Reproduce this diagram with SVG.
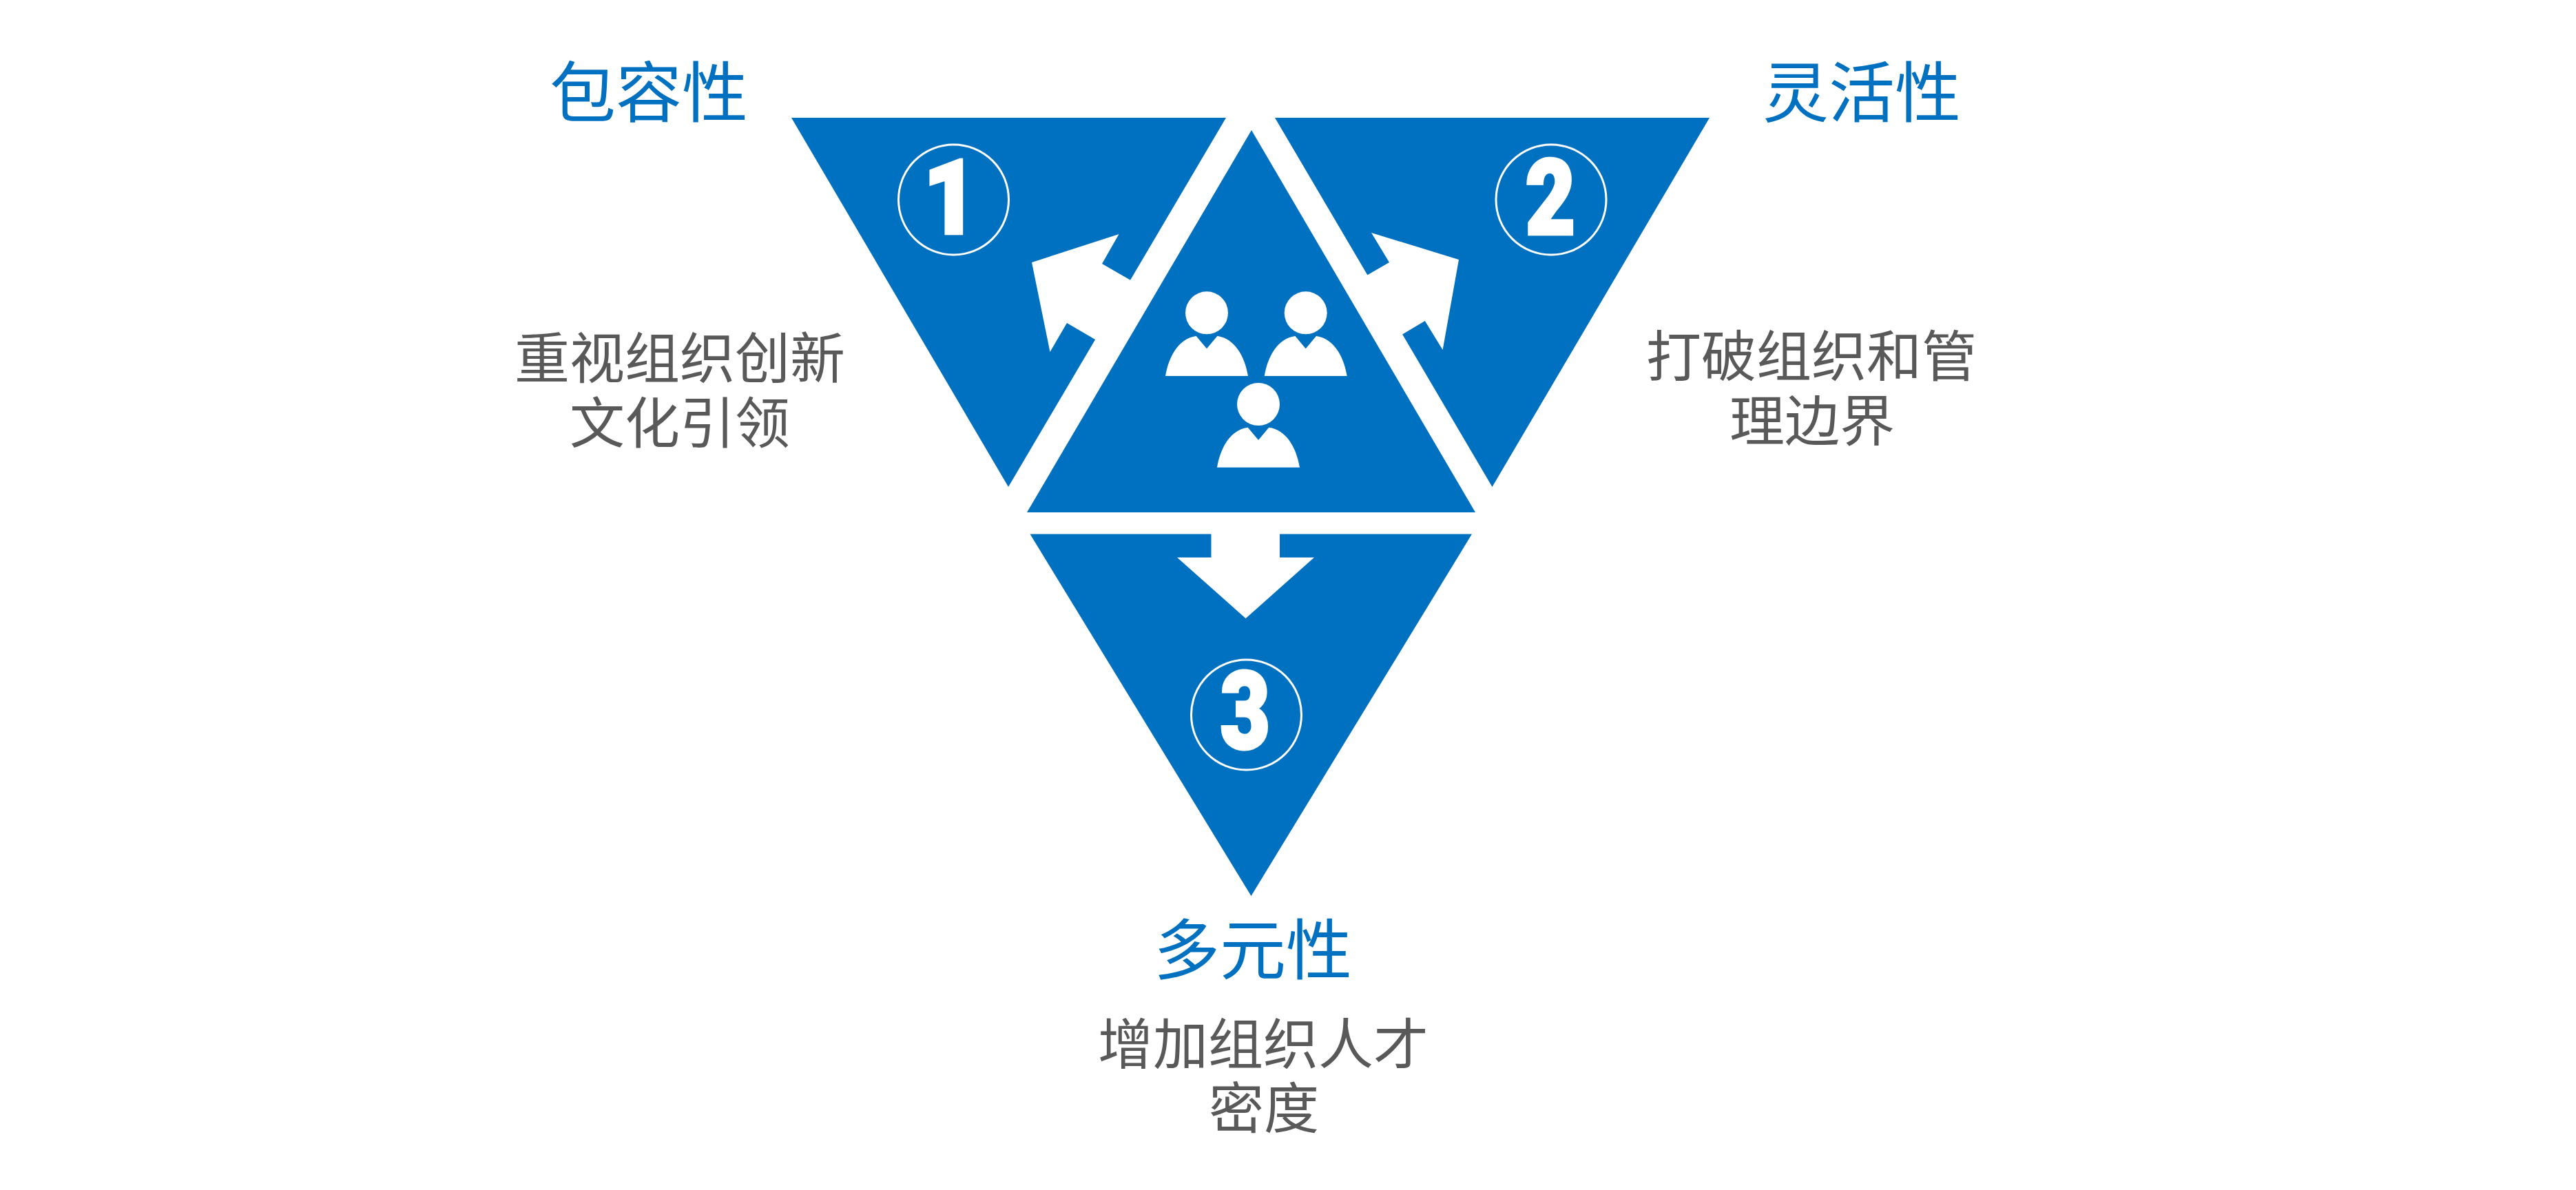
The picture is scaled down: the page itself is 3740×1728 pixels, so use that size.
<svg xmlns="http://www.w3.org/2000/svg" width="3740" height="1728" viewBox="0 0 3740 1728">
<style>
.tri{fill:#0070c0}
.ring{fill:none;stroke:#fff;stroke-width:3}
.num{font-family:Roboto,"Liberation Sans",Arial,sans-serif;font-weight:900;font-size:160px;fill:#fff;stroke:#fff;stroke-width:5;text-anchor:middle}
.head{font-family:"Noto Sans CJK SC",sans-serif;font-size:96px;fill:#0070c0;text-anchor:middle}
.body{font-family:"Noto Sans CJK SC",sans-serif;font-size:80px;fill:#595959;text-anchor:middle}
.arrow{fill:#fff}
.person{fill:#fff}
</style>
<defs>
<g id="person">
<circle cx="0" cy="0" r="31"/>
<path d="M-60,91.7C-55,62 -40,37 -15.3,33.7L0,52L15.3,33.7C40,37 55,62 60,91.7Z"/>
</g>
</defs>
<rect width="3740" height="1728" fill="#fff"/>
<g id="node-1">
<polygon class="tri" points="1149,171 1780,171 1464,707"/>
<ellipse class="ring" cx="1384.5" cy="290" rx="80" ry="80"/>
<text class="num" transform="translate(1380,339) scale(0.85,0.94)" x="0" y="0">1</text>
<text class="head" x="942" y="169">包容性</text>
<text class="body" x="987" y="549">重视组织创新</text>
<text class="body" x="987" y="643">文化引领</text>
</g>
<g id="node-2">
<polygon class="tri" points="1851,171 2482,171 2166.5,707"/>
<ellipse class="ring" cx="2252" cy="290" rx="80" ry="80"/>
<text class="num" transform="translate(2251,340) scale(0.78,0.95)" x="0" y="0">2</text>
<text class="head" x="2703" y="169">灵活性</text>
<text class="body" x="2630" y="546">打破组织和管</text>
<text class="body" x="2631" y="640">理边界</text>
</g>
<g id="node-3">
<polygon class="tri" points="1495.5,775.5 2137,775.5 1816.5,1301"/>
<ellipse class="ring" cx="1809.5" cy="1038" rx="80" ry="80"/>
<text class="num" transform="translate(1808,1086) scale(0.78,0.97)" x="0" y="0">3</text>
<text class="head" x="1819" y="1414">多元性</text>
<text class="body" x="1834" y="1545">增加组织人才</text>
<text class="body" x="1835" y="1638">密度</text>
</g>
<g id="connectors">
<polygon class="arrow" points="1665,423 1640.8,406.5 1600,383 1624.5,340 1498,381 1524.5,511 1549,469 1590,493 1610,510"/>
<polygon class="arrow" points="1960,415 1985,399.6 2017,381 1991,338 2118,377 2094.6,508 2068.8,466 2035.7,485.7 2010,503"/>
<polygon class="arrow" points="1758.5,760 1758.5,809.6 1709,809.6 1808.6,898 1908,809.6 1858,809.6 1858,760"/>
</g>
<g id="node-center">
<polygon class="tri" points="1817,189 2142,744 1491,744"/>
<use class="person" href="#person" x="1752" y="454.3"/>
<use class="person" href="#person" x="1895.7" y="454.3"/>
<use class="person" href="#person" x="1827" y="587"/>
</g>
</svg>
